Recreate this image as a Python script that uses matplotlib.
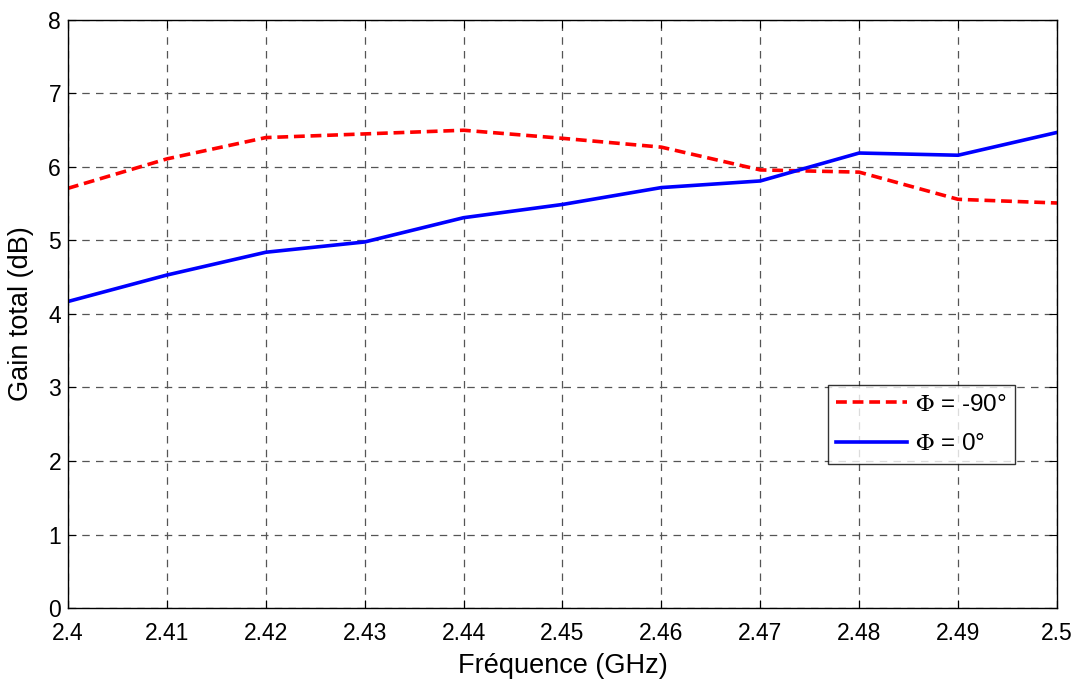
import matplotlib.pyplot as plt

freq = [2.40, 2.41, 2.42, 2.43, 2.44, 2.45, 2.46, 2.47, 2.48, 2.49, 2.50]
gain_m90 = [5.71, 6.11, 6.40, 6.45, 6.50, 6.39, 6.27, 5.96, 5.93, 5.56, 5.51]
gain_0 = [4.17, 4.53, 4.84, 4.98, 5.31, 5.49, 5.72, 5.81, 6.19, 6.16, 6.47]
xticks = [2.40, 2.41, 2.42, 2.43, 2.44, 2.45, 2.46, 2.47, 2.48, 2.49, 2.50]
xtick_labels = ['2.4', '2.41', '2.42', '2.43', '2.44', '2.45', '2.46', '2.47', '2.48', '2.49', '2.5']

plt.rcParams['font.family'] = ['Liberation Sans', 'DejaVu Sans']
plt.rcParams['mathtext.fontset'] = 'stix'

fig = plt.figure(figsize=(10.77, 6.82), dpi=100)
ax = fig.add_axes([0.0631, 0.1085, 0.9183, 0.8622])

ax.plot(freq, gain_m90, color='#ff0000', linestyle='--', linewidth=2.6,
        dashes=(3, 1.6), label=r'$\Phi$ = -90°')
ax.plot(freq, gain_0, color='#0000ff', linestyle='-', linewidth=2.6, label=r'$\Phi$ = 0°')

ax.set_xlim(2.4, 2.5)
ax.set_ylim(0, 8)
ax.set_xticks(xticks)
ax.set_xticklabels(xtick_labels)
ax.set_yticks(range(0, 9))

ax.grid(True, color='#555555', linestyle=(0, (6, 5)), linewidth=0.9)
ax.tick_params(direction='in', top=True, right=True, labelsize=16.5, length=6)
ax.tick_params(axis='x', pad=10)
ax.tick_params(axis='y', pad=5)
for s in ax.spines.values():
    s.set_linewidth(1.0)

ax.set_xlabel('Fréquence (GHz)', fontsize=19.5, labelpad=6)
ax.set_ylabel('Gain total (dB)', fontsize=19.5, labelpad=10)

leg = ax.legend(loc='lower left', bbox_to_anchor=(0.768, 0.245, 0.19, 0.141),
                mode='expand', borderaxespad=0, fontsize=17.5, frameon=True,
                fancybox=False, edgecolor='black', handlelength=2.9,
                handletextpad=0.35, borderpad=0.35, labelspacing=0.72)
leg.get_frame().set_linewidth(1.0)

fig.savefig('out.png', dpi=100)
